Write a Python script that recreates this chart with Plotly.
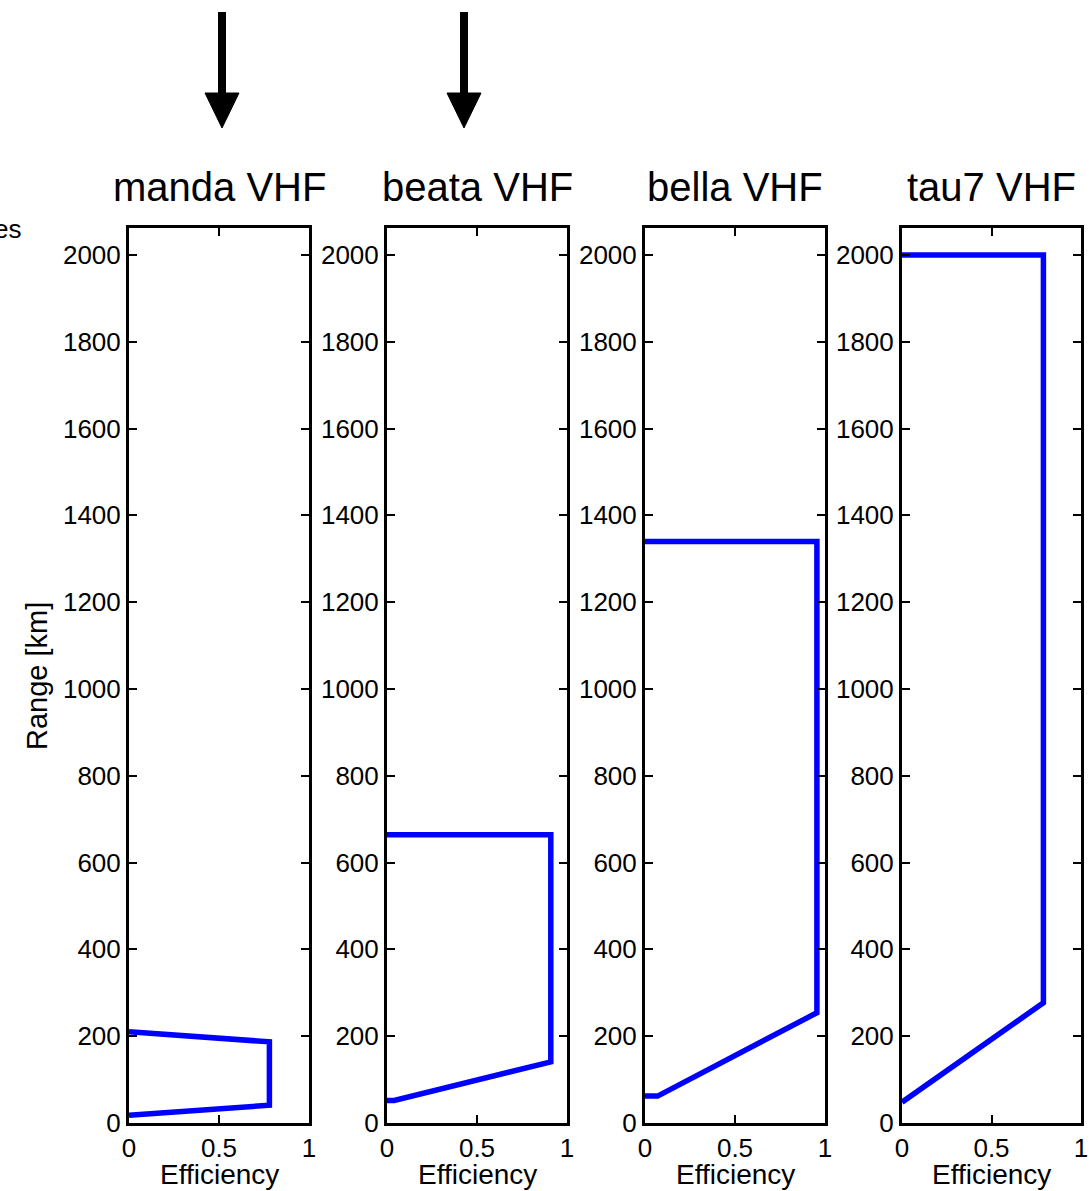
import plotly.graph_objects as go

W, H = 1089, 1191

# ---- data ----
panel_titles = ["manda VHF", "beata VHF", "bella VHF", "tau7 VHF"]

manda_eff = [0.0, 0.78, 0.78, 0.0]
manda_range = [210, 187, 41, 18]

beata_eff = [0.0, 0.04, 0.91, 0.91, 0.0]
beata_range = [52, 52, 141, 664, 664]

bella_eff = [0.0, 0.07, 0.955, 0.955, 0.0]
bella_range = [62, 62, 254, 1340, 1340]

tau7_eff = [0.0, 0.79, 0.79, 0.0]
tau7_range = [48, 277, 2000, 2000]

x_ticks = [0, 0.5, 1]
x_ticklabels = ["0", "0.5", "1"]
y_ticks = [0, 200, 400, 600, 800, 1000, 1200, 1400, 1600, 1800, 2000]
y_ticklabels = [str(v) for v in y_ticks]

series = [(manda_eff, manda_range), (beata_eff, beata_range),
          (bella_eff, bella_range), (tau7_eff, tau7_range)]

# ---- layout geometry (pixels) ----
panel_left = [129, 387, 645, 902]
panel_right = [309, 567, 825, 1081]
panel_top, panel_bottom = 228, 1123


def px(x):
    return x / W


def py(y):
    return 1 - y / H


FONT = "Liberation Sans, Arial, Helvetica, sans-serif"

fig = go.Figure()
layout = dict(
    width=W, height=H,
    margin=dict(l=0, r=0, t=0, b=0, pad=0),
    paper_bgcolor="white", plot_bgcolor="white",
    showlegend=False,
    font=dict(family=FONT, color="black"),
)

annotations = []
for i, ((xs, ys), title) in enumerate(zip(series, panel_titles)):
    n = "" if i == 0 else str(i + 1)
    fig.add_trace(go.Scatter(
        x=xs, y=ys, mode="lines",
        line=dict(color="#0000ff", width=5.5),
        xaxis="x" + n, yaxis="y" + n, hoverinfo="skip",
    ))
    common = dict(
        ticks="inside", ticklen=8, tickwidth=2, tickcolor="black",
        showline=True, linewidth=3, linecolor="black", mirror="ticks",
        showgrid=False, zeroline=False, automargin=False,
        tickfont=dict(family=FONT, size=26, color="black"),
    )
    layout["xaxis" + n] = dict(
        domain=[px(panel_left[i]), px(panel_right[i])],
        range=[0, 1], tickmode="array", tickvals=x_ticks, ticktext=x_ticklabels,
        anchor="y" + n, **common,
    )
    layout["yaxis" + n] = dict(
        domain=[py(panel_bottom), py(panel_top)],
        range=[0, 2062], tickmode="array", tickvals=y_ticks, ticktext=y_ticklabels,
        anchor="x" + n, **common,
    )
    cx = (panel_left[i] + panel_right[i]) / 2
    annotations.append(dict(
        text=title, xref="paper", yref="paper", x=px(cx), y=py(187),
        xanchor="center", yanchor="middle", showarrow=False,
        font=dict(family=FONT, size=40, color="black"),
    ))
    annotations.append(dict(
        text="Efficiency", xref="paper", yref="paper", x=px(cx), y=py(1174),
        xanchor="center", yanchor="middle", showarrow=False,
        font=dict(family=FONT, size=28, color="black"),
    ))

annotations.append(dict(
    text="Range [km]", xref="paper", yref="paper", x=px(37), y=py(676),
    xanchor="center", yanchor="middle", showarrow=False, textangle=-90,
    font=dict(family=FONT, size=29, color="black"),
))
annotations.append(dict(
    text="es", xref="paper", yref="paper", x=px(23), y=py(229),
    xanchor="right", yanchor="middle", showarrow=False,
    font=dict(family=FONT, size=26, color="black"),
))

shapes = []
for ax_x in [222, 464]:
    shapes.append(dict(type="line", xref="paper", yref="paper",
                       x0=px(ax_x), x1=px(ax_x), y0=py(12), y1=py(96),
                       line=dict(color="black", width=8)))
    path = "M {} {} L {} {} L {} {} Z".format(
        px(ax_x - 17), py(93), px(ax_x + 17), py(93), px(ax_x), py(128))
    shapes.append(dict(type="path", xref="paper", yref="paper", path=path,
                       fillcolor="black", line=dict(color="black", width=1)))

layout["annotations"] = annotations
layout["shapes"] = shapes
fig.update_layout(**layout)
fig.write_html("out.html")
